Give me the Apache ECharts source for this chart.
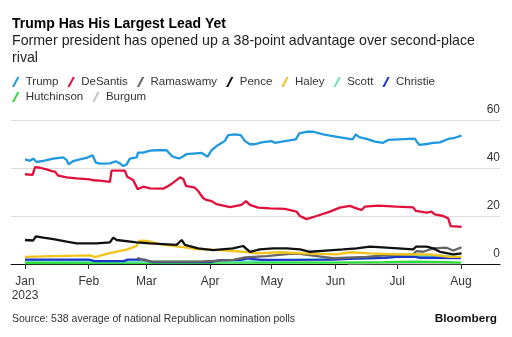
<!DOCTYPE html>
<html>
<head>
<meta charset="utf-8">
<script src="https://cdn.jsdelivr.net/npm/echarts@6/dist/echarts.min.js"></script>
<style>
html,body{margin:0;padding:0;background:#fff;}
#c{width:512px;height:337px;}
</style>
</head>
<body>
<div id="c"></div>
<script>
// Days counted from 2023-01-01
const monthDays = [0, 31, 59, 90, 120, 151, 181, 212];
const monthLabels = ['Jan\n2023', 'Feb', 'Mar', 'Apr', 'May', 'Jun', 'Jul', 'Aug'];
const yTicks = [0, 20, 40, 60];

const trump = [[0,43.6],[2.4,43.0],[4,43.9],[5.7,42.5],[8.9,43.0],[13.8,43.9],[18.6,44.4],[20.3,43.3],[21.2,41.5],[23.5,42.9],[26.7,43.6],[30,44.2],[32.9,45.3],[34.5,42.2],[36.5,41.8],[41.3,41.9],[44.2,42.8],[46.2,41.9],[47.8,40.8],[49.4,41.5],[51,43.9],[54.3,44.4],[55,46.4],[57.5,46.4],[60.8,47.2],[64,47.4],[68.9,47.4],[71.3,45.1],[72.9,44.4],[75,44.0],[77,44.9],[78.6,45.8],[85.9,46.3],[88.8,44.7],[90.8,47.5],[94,49.6],[97.2,51.3],[98.8,53.7],[102.1,54.0],[104.9,53.7],[107,51.2],[109.4,49.9],[111.8,49.9],[115.1,50.7],[119.9,51.2],[121.5,50.5],[125.6,51.1],[131.7,51.9],[133.4,54.4],[136.9,55.1],[140.2,55.1],[145,54.0],[148.3,53.5],[154.7,52.6],[159.3,51.9],[160.9,54.0],[162.5,52.9],[166.1,52.1],[170.2,51.0],[174.2,50.5],[176.6,51.7],[189.6,52.2],[190.4,51.2],[191.7,49.6],[195.3,50.0],[198.5,50.5],[201.8,50.7],[205.8,52.1],[209,52.6],[212.3,53.5]];

const desantis = [[0,37.4],[3.7,37.1],[4.9,40.4],[7.3,40.1],[10.5,39.4],[13,38.7],[14.6,38.5],[16.2,36.8],[20.3,36.1],[25.1,35.7],[31.6,35.3],[33.2,34.9],[36.5,34.7],[41.3,34.2],[42.1,38.9],[48.6,38.9],[49.7,36.4],[52.6,35.0],[54.8,31.2],[57.5,32.2],[60.8,31.5],[67.2,31.4],[69.7,32.5],[72.1,33.9],[75.4,36.1],[77,35.4],[78.3,32.6],[82.6,31.8],[84.2,30.4],[86.7,27.4],[88.3,26.7],[90.8,26.2],[93.2,24.9],[96.4,24.3],[99.7,23.7],[105.3,24.6],[107.4,26.2],[109.4,24.6],[113.4,23.5],[119.1,23.2],[126.4,23.0],[132.1,21.8],[133.7,20.0],[136.9,18.7],[141.8,20.0],[148.3,21.8],[153.1,23.5],[158,24.2],[161.2,23.2],[163.7,22.5],[165.3,23.9],[171.8,24.3],[180.7,23.9],[188.8,23.6],[190.1,22.1],[195.3,21.4],[197.7,21.8],[199.3,20.7],[203.4,20.0],[205.8,19.0],[207,15.8],[212.3,15.5]];

const ramaswamy = [[54.6,2.6],[57,1.8],[60.8,1.0],[85,1.0],[101.3,1.7],[107,2.8],[117.5,3.3],[128.8,4.2],[133.7,4.2],[141.8,3.3],[149.9,2.4],[166.1,3.0],[174.2,3.6],[188.8,4.0],[190.4,5.4],[193.7,5.1],[198.5,6.5],[205,6.8],[208.2,5.6],[212.3,7.0]];

const pence = [[0,10.0],[4,9.8],[5.3,11.5],[8.9,11.0],[13.8,10.4],[20.3,9.3],[25.1,8.6],[34.9,8.6],[41.3,9.0],[42.9,11.0],[44.6,10.0],[54.3,9.0],[60.8,8.6],[73.7,8.0],[76.2,10.0],[77.8,8.0],[84.2,6.5],[91.5,5.8],[101.1,6.5],[106.1,7.5],[109.4,5.1],[114.2,6.1],[120.7,6.5],[127.2,6.5],[133.7,6.1],[138.6,5.1],[149.7,5.8],[154.7,6.1],[161.3,6.5],[167.7,7.2],[175.8,6.8],[188.8,6.1],[190.1,7.2],[195.3,7.2],[198.5,6.5],[201.8,5.1],[208.2,4.0],[212.3,4.4]];

const haley = [[0,3.0],[8.9,3.2],[31.6,3.6],[34,2.9],[41.3,4.5],[49.4,6.0],[54.3,7.5],[55.6,9.7],[59.2,9.6],[65.6,8.3],[70.5,7.7],[77,7.0],[83.5,6.2],[94.8,5.8],[107.8,5.0],[112.6,4.4],[124,4.9],[135.3,4.4],[151.5,4.0],[158,4.9],[167.7,4.4],[180.7,4.0],[196.9,4.0],[206.6,3.0],[212.3,3.0]];

const scott = [[0,1.3],[30,1.2],[55,1.0],[90,1.0],[110,1.2],[125,1.5],[140,1.8],[160,2.2],[175,2.6],[190,3.4],[200,3.5],[212,3.0]];

const christie = [[0,1.8],[31,1.8],[34,1.2],[48,1.2],[50,1.8],[58,1.8],[62,0.8],[90,0.8],[95,1.6],[105,1.7],[108,2.3],[115,1.7],[150,1.8],[160,2.3],[175,2.6],[180,3.0],[190,3.0],[192,2.6],[212,2.5]];

const hutchinson = [[0,0.4],[90,0.5],[95,0.6],[120,0.7],[150,0.6],[175,0.8],[190,1.0],[205,0.8],[212,0.6]];

const burgum = [[157,0.3],[170,0.4],[190,0.5],[212,0.4]];

const names = ['Trump','DeSantis','Ramaswamy','Pence','Haley','Scott','Christie','Hutchinson','Burgum'];
const colors = ['#1f98e0','#e0103c','#666666','#111111','#f2c31a','#6fe2b6','#1b36cc','#2ddd3c','#c4c4c4'];
const dataSets = [trump, desantis, ramaswamy, pence, haley, scott, christie, hutchinson, burgum];
const zs = [10, 9, 5, 7, 6, 3, 4, 2, 1];

const FONT = '"Liberation Sans", Arial, Helvetica, sans-serif';
const icon = 'path://M5.2,0 L7.4,0 L2.2,10 L0,10 Z';

const chart = echarts.init(document.getElementById('c'), null, {renderer: 'canvas'});

const legendCommon = {
  left: 12,
  icon: icon,
  itemWidth: 8,
  itemHeight: 10,
  itemGap: 9,
  padding: 0,
  selectedMode: false,
  textStyle: {fontFamily: FONT, fontSize: 11.5, color: '#333', padding: [0, 0, 0, 1]},
  itemStyle: {borderWidth: 0}
};

chart.setOption({
  animation: false,
  backgroundColor: '#fff',
  graphic: [
    {type: 'text', left: 12, top: 17, style: {text: 'Trump Has His Largest Lead Yet', font: 'bold 14px ' + FONT, fill: '#000'}},
    {type: 'text', left: 12, top: 33, style: {text: 'Former president has opened up a 38-point advantage over second-place\nrival', font: '14.2px ' + FONT, fill: '#222', lineHeight: 16.7}},
    {type: 'text', left: 12, top: 314, style: {text: 'Source: 538 average of national Republican nomination polls', font: '10.5px ' + FONT, fill: '#333'}},
    {type: 'text', right: 15, top: 313, style: {text: 'Bloomberg', font: 'bold 11.8px ' + FONT, fill: '#111'}}
  ],
  legend: [
    Object.assign({}, legendCommon, {top: 76, data: names.slice(0, 7)}),
    Object.assign({}, legendCommon, {top: 91, data: names.slice(7)})
  ],
  grid: {left: 11, right: 12, top: 120, bottom: 73},
  xAxis: {
    type: 'value',
    min: -6.8,
    max: 231,
    axisLine: {show: true, onZero: false, lineStyle: {color: '#111', width: 1}},
    axisTick: {show: true, customValues: monthDays, length: 5, lineStyle: {color: '#333'}},
    splitLine: {show: false},
    axisLabel: {
      customValues: monthDays,
      formatter: function (v) { return monthLabels[monthDays.indexOf(Math.round(v))] || ''; },
      fontFamily: FONT, fontSize: 12, color: '#333', margin: 11, lineHeight: 13.5, align: 'center'
    }
  },
  yAxis: {
    type: 'value',
    position: 'right',
    min: 0,
    max: 60,
    interval: 20,
    axisLine: {show: false},
    axisTick: {show: false},
    splitLine: {show: true, lineStyle: {color: '#dcdcdc', width: 1}},
    axisLabel: {
      inside: true, margin: 0, align: 'right', verticalAlign: 'bottom',
      padding: [0, 0, 4, 0],
      fontFamily: FONT, fontSize: 12, color: '#333',
      customValues: yTicks
    }
  },
  series: names.map(function (n, i) {
    return {
      name: n,
      type: 'line',
      data: dataSets[i],
      color: colors[i],
      showSymbol: false,
      symbol: 'none',
      z: zs[i],
      lineStyle: {color: colors[i], width: 2.3},
      itemStyle: {color: colors[i]}
    };
  })
});
</script>
</body>
</html>
